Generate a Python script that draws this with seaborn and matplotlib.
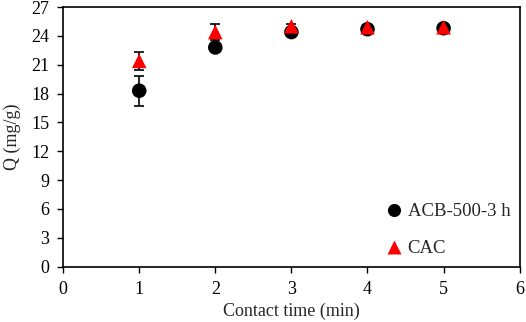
import matplotlib
matplotlib.use("Agg")
import matplotlib.pyplot as plt
import seaborn as sns
import pandas as pd

time_min = [1, 2, 3, 4, 5]
acb_q = [18.3, 22.8, 24.4, 24.7, 24.8]
acb_err = [1.55, 0.2, 0.2, 0.2, 0.2]
cac_q = [21.4, 24.4, 25.0, 24.9, 24.9]
cac_err = [0.95, 0.85, 0.2, 0.2, 0.2]

sns.set_style("ticks")
plt.rcParams["font.family"] = ["Liberation Serif", "DejaVu Serif"]
plt.rcParams["font.size"] = 13

df = pd.DataFrame({
    "t": time_min * 2,
    "q": acb_q + cac_q,
    "s": ["ACB-500-3 h"] * 5 + ["CAC"] * 5,
})

fig, ax = plt.subplots(figsize=(5.26, 3.22), dpi=100)

ax.errorbar(time_min, acb_q, yerr=acb_err, fmt="none", ecolor="black",
            elinewidth=1.2, capsize=3.5, capthick=1.2, zorder=2)
ax.errorbar(time_min, cac_q, yerr=cac_err, fmt="none", ecolor="black",
            elinewidth=1.2, capsize=3.5, capthick=1.2, zorder=2)

sns.scatterplot(data=df, x="t", y="q", hue="s", style="s",
                palette={"ACB-500-3 h": "black", "CAC": "red"},
                markers={"ACB-500-3 h": "o", "CAC": "^"},
                s=110, edgecolor="none", ax=ax, zorder=3)

ax.set_xlim(0, 6)
ax.set_ylim(0, 27)
ax.set_xticks(range(0, 7))
ax.set_yticks(range(0, 28, 3))
ax.set_xlabel("Contact time (min)", labelpad=4)
ax.set_ylabel("Q (mg/g)", labelpad=7)
ax.tick_params(direction="out", length=4, width=1, colors="black", pad=6)
for sp in ax.spines.values():
    sp.set_visible(True)
    sp.set_linewidth(1.2)
    sp.set_color("black")

ax.legend(loc="lower right", frameon=False, handletextpad=-0.25,
          labelspacing=1.05, markerscale=0.9, borderaxespad=0.3,
          borderpad=0.2, fontsize=13.5)

plt.subplots_adjust(left=0.12, right=0.988, top=0.978, bottom=0.172)
fig.savefig("out.png", dpi=100)
